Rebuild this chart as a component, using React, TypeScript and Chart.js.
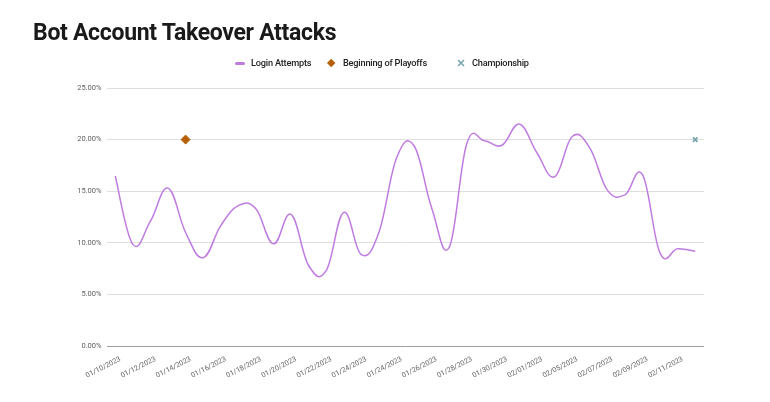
import React, { useEffect, useRef } from "react";
import { Chart, registerables } from "chart.js";

Chart.register(...registerables);

const categories: string[] = [
  "01/10/2023", "01/11/2023", "01/12/2023", "01/13/2023", "01/14/2023",
  "01/15/2023", "01/16/2023", "01/17/2023", "01/18/2023", "01/19/2023",
  "01/20/2023", "01/21/2023", "01/22/2023", "01/23/2023", "01/24/2023",
  "01/25/2023", "01/24/2023", "01/25/2023", "01/26/2023", "01/27/2023",
  "01/28/2023", "01/29/2023", "01/30/2023", "01/31/2023", "02/01/2023",
  "02/03/2023", "02/05/2023", "02/06/2023", "02/07/2023", "02/08/2023",
  "02/09/2023", "02/10/2023", "02/11/2023", "02/12/2023",
];

const loginAttempts: number[] = [
  16.47, 9.85, 12.1, 15.3, 11.0, 8.56, 11.67, 13.6, 13.3, 9.9, 12.75,
  7.8, 7.3, 12.95, 8.85, 11.0, 18.2, 19.4, 13.4, 9.55, 19.6, 19.9,
  19.45, 21.5, 18.7, 16.4, 20.3, 19.2, 15.1, 14.65, 16.6, 9.0, 9.42, 9.17,
];

const playoffsDate = "01/14/2023";
const playoffsValue = 20;
const championshipDate = "02/12/2023";
const championshipValue = 20;

const yTicks: number[] = [0, 5, 10, 15, 20, 25];

const PURPLE = "#c07be0";
const BROWN = "#b45f06";
const TEAL = "#76a5af";
const FONT = "Roboto, 'Noto Sans', sans-serif";
const SMOOTH = 0.2;

// Uniform (index-based) cardinal spline, like the spreadsheet's smooth line.
const uniformSpline = {
  id: "uniformSpline",
  beforeDatasetDraw(chart: any, args: any) {
    if (args.index !== 0) return;
    const meta = chart.getDatasetMeta(0);
    const line = meta.dataset;
    if (!line) return;
    line.updateControlPoints(chart.chartArea, "x");
    const pts = meta.data;
    for (let i = 0; i < pts.length; i++) {
      const p = pts[i];
      const prev = pts[Math.max(0, i - 1)];
      const next = pts[Math.min(pts.length - 1, i + 1)];
      const dx = next.x - prev.x;
      const dy = next.y - prev.y;
      p.cp1x = p.x - SMOOTH * dx;
      p.cp1y = p.y - SMOOTH * dy;
      p.cp2x = p.x + SMOOTH * dx;
      p.cp2y = p.y + SMOOTH * dy;
    }
    line._path = undefined;
  },
};

export default function App() {
  const canvasRef = useRef<HTMLCanvasElement | null>(null);

  useEffect(() => {
    const canvas = canvasRef.current;
    if (!canvas) return;
    const chart = new Chart(canvas, {
      type: "line",
      data: {
        labels: categories,
        datasets: [
          {
            label: "Login Attempts",
            data: loginAttempts,
            borderColor: PURPLE,
            backgroundColor: PURPLE,
            borderWidth: 1.5,
            pointRadius: 0,
            tension: 0.4,
            fill: false,
            order: 2,
          },
          {
            label: "Beginning of Playoffs",
            data: [{ x: playoffsDate, y: playoffsValue }] as any,
            showLine: false,
            pointStyle: "rectRot",
            pointRadius: 4.5,
            backgroundColor: BROWN,
            borderColor: BROWN,
            borderWidth: 1,
            order: 1,
          },
          {
            label: "Championship",
            data: [{ x: championshipDate, y: championshipValue }] as any,
            showLine: false,
            pointStyle: "crossRot",
            pointRadius: 3.2,
            backgroundColor: TEAL,
            borderColor: TEAL,
            borderWidth: 1.8,
            order: 1,
          },
        ],
      },
      options: {
        animation: false,
        responsive: false,
        devicePixelRatio: 1,
        layout: { padding: { left: 0, right: 66, top: 88, bottom: 0 } },
        plugins: {
          legend: { display: false },
          title: { display: false },
          tooltip: { enabled: false },
        },
        scales: {
          x: {
            type: "category",
            offset: true,
            grid: { display: false, drawTicks: false },
            border: { display: false },
            afterFit: (s: any) => {
              s.height = 56;
            },
            ticks: {
              autoSkip: false,
              minRotation: 27,
              maxRotation: 27,
              padding: 9,
              labelOffset: 5,
              color: "#5f5f5f",
              font: { family: FONT, size: 7.2 },
              callback: (_v: any, i: number) => (i % 2 === 0 ? categories[i] : ""),
            },
          },
          y: {
            min: 0,
            max: 25,
            afterFit: (s: any) => {
              s.width = 106.5;
            },
            afterBuildTicks: (s: any) => {
              s.ticks = yTicks.map((v) => ({ value: v }));
            },
            grid: {
              drawTicks: false,
              color: (ctx: any) => (ctx.tick && ctx.tick.value === 0 ? "#9e9e9e" : "#dedede"),
              lineWidth: 1,
            },
            border: { display: false },
            ticks: {
              padding: 5,
              color: "#5f5f5f",
              font: { family: FONT, size: 7.5 },
              callback: (v: any) => Number(v).toFixed(2) + "%",
            },
          },
        },
      },
      plugins: [uniformSpline],
    });
    return () => chart.destroy();
  }, []);

  const legendText: React.CSSProperties = {
    position: "absolute",
    top: 57.3,
    height: 12,
    lineHeight: "12px",
    fontFamily: FONT,
    fontSize: 9.2,
    fontWeight: 500,
    letterSpacing: -0.2,
    color: "#222222",
    whiteSpace: "nowrap",
  };

  return (
    <div style={{ position: "absolute", left: 0, top: 0, width: 770, height: 402, background: "#ffffff", overflow: "hidden" }}>
      <canvas ref={canvasRef} width={770} height={402} style={{ position: "absolute", left: 0, top: 0, width: 770, height: 402 }} />
      <div
        style={{
          position: "absolute",
          left: 33,
          top: 21,
          fontFamily: FONT,
          fontSize: 23,
          lineHeight: "23px",
          fontWeight: 700,
          letterSpacing: -0.3,
          color: "#1a1a1a",
          whiteSpace: "nowrap",
        }}
      >
        Bot Account Takeover Attacks
      </div>
      <div style={{ position: "absolute", left: 234.5, top: 62, width: 10, height: 3, borderRadius: 1.5, background: PURPLE }} />
      <div style={{ ...legendText, left: 251 }}>Login Attempts</div>
      <div
        style={{
          position: "absolute",
          left: 330.7 - 3.2,
          top: 63.3 - 3.2,
          width: 6.4,
          height: 6.4,
          background: BROWN,
          transform: "rotate(45deg)",
        }}
      />
      <div style={{ ...legendText, left: 343 }}>Beginning of Playoffs</div>
      <svg style={{ position: "absolute", left: 457.3, top: 59.3 }} width={8} height={8} viewBox="0 0 8 8">
        <path d="M1 1 L7 7 M7 1 L1 7" stroke={TEAL} strokeWidth={1.6} />
      </svg>
      <div style={{ ...legendText, left: 472 }}>Championship</div>
    </div>
  );
}
